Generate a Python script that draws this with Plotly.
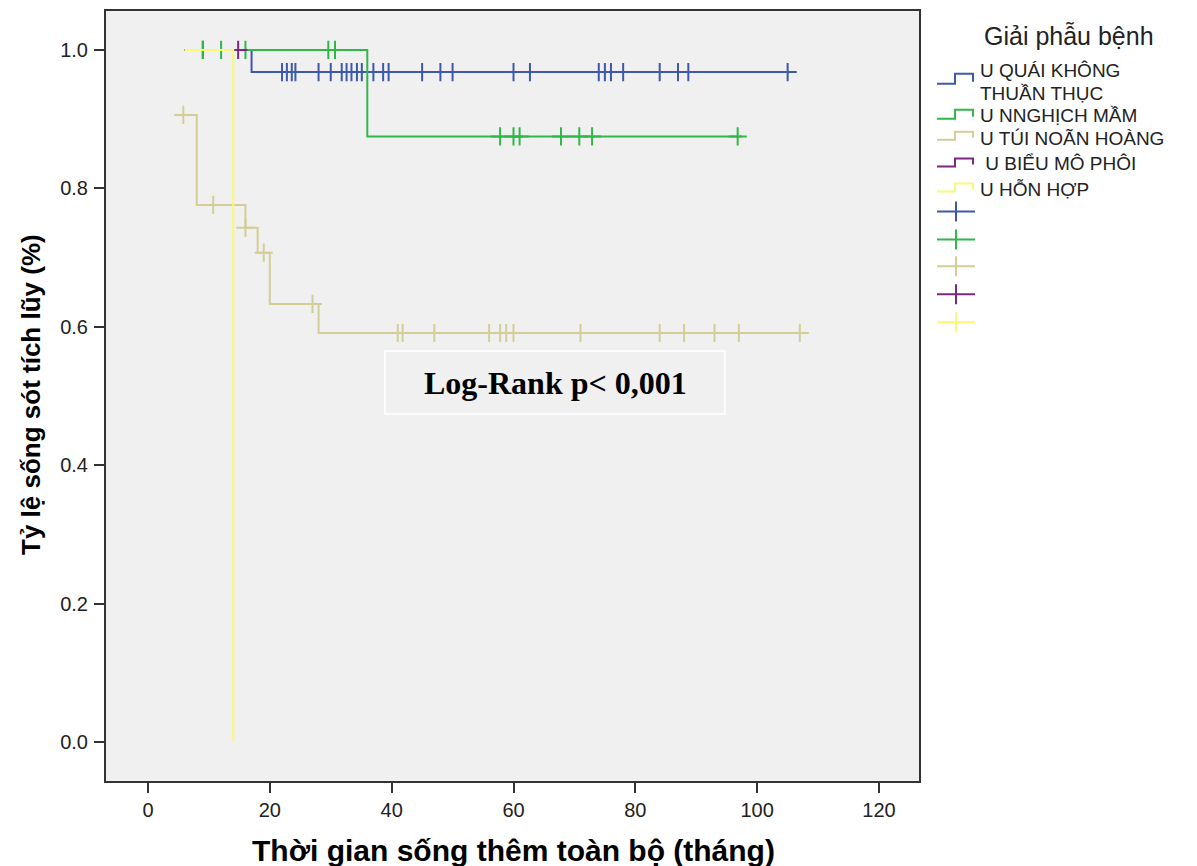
import numpy as np
import plotly.graph_objects as go

# ---- Kaplan-Meier estimates by histology (months, cumulative survival) ----
group_names = ["U QUÁI KHÔNG THUẦN THỤC", "U NNGHỊCH MẦM", "U TÚI NOÃN HOÀNG",
               " U BIỂU MÔ PHÔI", "U HỖN HỢP"]
group_colors = ["#3E58AC", "#2EB848", "#D3CE97", "#7C287D", "#FBF873"]

quai_step_time = [6, 17]
quai_step_surv = [1.0, 0.968]
quai_end = 105
quai_censor = [9, 22, 22.8, 23.6, 24.2, 28, 30, 31.8, 32.6, 33.4, 34.3, 35.1, 37,
               38.6, 39.5, 45, 48, 50, 60, 62.7, 74, 75, 76, 78, 84, 87, 88.7, 105]

nghich_step_time = [6, 36]
nghich_step_surv = [1.0, 0.875]
nghich_end = 97.5
nghich_censor = [9, 12, 16, 29.6, 30.7, 57.8, 60, 61, 67.8, 70.8, 72.9, 96.8]

tui_step_time = [5.8, 8, 16, 18, 20, 28]
tui_step_surv = [0.906, 0.776, 0.743, 0.707, 0.633, 0.591]
tui_end = 108
tui_censor = [5.8, 10.7, 16, 19, 27, 41, 41.8, 47, 56, 57.8, 58.8, 60, 71, 84,
              88, 93, 97, 107]

bieu_step_time = [6]
bieu_step_surv = [1.0]
bieu_end = 14.8
bieu_censor = [14.8]

hon_step_time = [6, 14]
hon_step_surv = [1.0, 0.0]
hon_end = 14
hon_censor = []

curves = [
    (quai_step_time, quai_step_surv, quai_end, quai_censor),
    (nghich_step_time, nghich_step_surv, nghich_end, nghich_censor),
    (tui_step_time, tui_step_surv, tui_end, tui_censor),
    (bieu_step_time, bieu_step_surv, bieu_end, bieu_censor),
    (hon_step_time, hon_step_surv, hon_end, hon_censor),
]

x_ticks = [0, 20, 40, 60, 80, 100, 120]
y_ticks = [0.0, 0.2, 0.4, 0.6, 0.8, 1.0]

# ---- page geometry (pixels) ----
FIG_W, FIG_H = 1197, 866
PL, PR, PT, PB = 106, 919, 9, 781
PW, PH = PR - PL, PB - PT


def px(xp):
    return (xp - PL) / PW


def py(yp):
    return (PB - yp) / PH


def surv_at(times, survs, t):
    idx = int(np.searchsorted(times, t, side="right")) - 1
    return survs[max(idx, 0)]


fig = go.Figure()

for (st, ss, end, cens), name, col in zip(curves, group_names, group_colors):
    xs = list(st) + [end]
    ys = list(ss) + [ss[-1]]
    fig.add_trace(go.Scatter(x=xs, y=ys, mode="lines", line=dict(color=col, width=2, shape="hv"),
                             name=name, showlegend=False, hoverinfo="skip"))
    if cens:
        cy = [surv_at(st, ss, t) for t in cens]
        fig.add_trace(go.Scatter(x=cens, y=cy, mode="markers",
                                 marker=dict(symbol="cross-thin", size=13,
                                             line=dict(color=col, width=2)),
                                 name=name + " censored", showlegend=False, hoverinfo="skip"))

# ---- Log-rank box ----
fig.add_shape(type="rect", xref="paper", yref="paper",
              x0=px(385), x1=px(725), y0=py(413), y1=py(350),
              line=dict(color="white", width=1.5), fillcolor="rgba(0,0,0,0)")
fig.add_annotation(xref="paper", yref="paper", x=px(555), y=py(382),
                   text="<b>Log-Rank p< 0,001</b>", showarrow=False,
                   font=dict(family="Liberation Serif, Times New Roman, serif", size=32, color="black"),
                   xanchor="center", yanchor="middle")

# ---- custom legend ----
fig.add_annotation(xref="paper", yref="paper", x=px(982), y=py(34), text="Giải phẫu bệnh",
                   showarrow=False, xanchor="left", yanchor="middle",
                   font=dict(family="Liberation Sans, Arial, sans-serif", size=25, color="#222"))

legend_rows = [
    (82, 72, [(69, "U QUÁI KHÔNG"), (92, "THUẦN THỤC")]),
    (117, 108, [(114, "U NNGHỊCH MẦM")]),
    (138, 130, [(137, "U TÚI NOÃN HOÀNG")]),
    (165, 157, [(162, " U BIỂU MÔ PHÔI")]),
    (190, 182, [(188, "U HỖN HỢP")]),
]
for (lo, hi, labels), col in zip(legend_rows, group_colors):
    path = (f"M {px(937)} {py(lo)} L {px(955)} {py(lo)} L {px(955)} {py(hi)} "
            f"L {px(973)} {py(hi)} L {px(973)} {py(lo - 2)}")
    fig.add_shape(type="path", xref="paper", yref="paper", path=path,
                  line=dict(color=col, width=2))
    for yy, txt in labels:
        fig.add_annotation(xref="paper", yref="paper", x=px(978), y=py(yy), text=txt,
                           showarrow=False, xanchor="left", yanchor="middle",
                           font=dict(family="Liberation Sans, Arial, sans-serif", size=19, color="#222"))

cross_rows = [210, 238, 265, 293, 321]
for yy, col in zip(cross_rows, group_colors):
    fig.add_shape(type="line", xref="paper", yref="paper", x0=px(937), x1=px(975),
                  y0=py(yy), y1=py(yy), line=dict(color=col, width=2))
    fig.add_shape(type="line", xref="paper", yref="paper", x0=px(956), x1=px(956),
                  y0=py(yy - 10), y1=py(yy + 10), line=dict(color=col, width=2))

# ---- axis titles ----
fig.add_annotation(xref="paper", yref="paper", x=px(513), y=py(851),
                   text="<b>Thời gian sống thêm toàn bộ (tháng)</b>", showarrow=False,
                   xanchor="center", yanchor="middle",
                   font=dict(family="Liberation Sans, Arial, sans-serif", size=30, color="black"))
fig.add_annotation(xref="paper", yref="paper", x=px(31), y=py(394),
                   text="<b>Tỷ lệ sống sót tích lũy (%)</b>", showarrow=False, textangle=-90,
                   xanchor="center", yanchor="middle",
                   font=dict(family="Liberation Sans, Arial, sans-serif", size=26, color="black"))

x_lo = (PL - 148) / ((879 - 148) / 120)
x_hi = (PR - 148) / ((879 - 148) / 120)
y_lo = -(PB - 742) / (742 - 48)
y_hi = 1 + (48 - PT) / (742 - 48)

axis_common = dict(showline=True, mirror=True, linecolor="#333", linewidth=2,
                   ticks="outside", ticklen=10, tickwidth=2, tickcolor="#333",
                   showgrid=False, zeroline=False,
                   tickfont=dict(family="Liberation Sans, Arial, sans-serif", size=20, color="#222"))

fig.update_layout(
    width=FIG_W, height=FIG_H,
    margin=dict(l=PL, r=FIG_W - PR, t=PT, b=FIG_H - PB),
    paper_bgcolor="white", plot_bgcolor="#F0F0F0",
    xaxis=dict(range=[x_lo, x_hi], tickvals=x_ticks, **axis_common),
    yaxis=dict(range=[y_lo, y_hi], tickvals=y_ticks, tickformat=".1f", ticklabelstandoff=2, **axis_common),
    showlegend=False,
)

fig.write_html("out.html")
